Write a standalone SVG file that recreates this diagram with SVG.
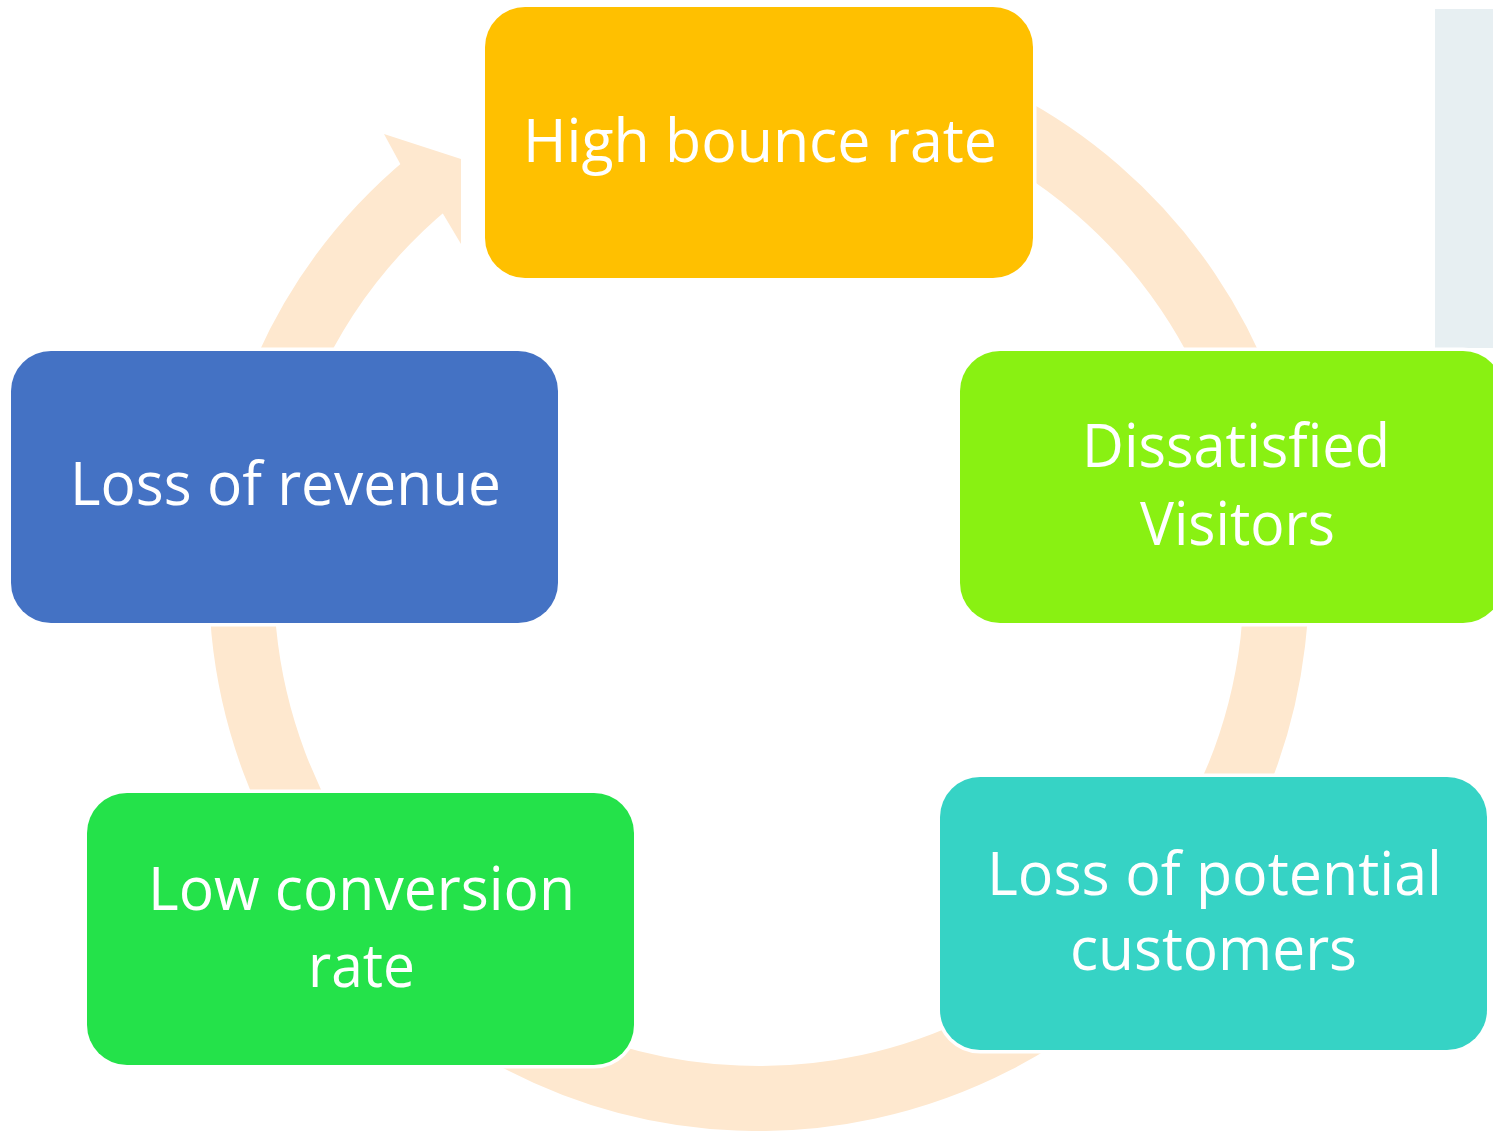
<svg xmlns="http://www.w3.org/2000/svg" width="1493" height="1131" viewBox="0 0 1493 1131">
<style>
.box{stroke:#ffffff;stroke-width:7;paint-order:stroke}
.lbl{font-family:"Open Sans","Liberation Sans",sans-serif;font-size:60px;fill:#ffffff;text-anchor:middle}
.ring{fill:none;stroke:#FEE8CF;stroke-width:65}
</style>
<rect x="1435" y="9" width="58" height="339" fill="#E7EFF2"/>
<g id="connectors">
<path class="ring" d="M625.06,81.14 A517.5,517.5 0 1 1 428.3,182.9"/>
<polygon points="400.3,164 384,134 461,159 461,244 442.7,213.3" fill="#FEE8CF"/>
</g>
<g id="node-high-bounce">
<rect class="box" x="485" y="7" width="548" height="271" rx="40" fill="#FFC000"/>
<text class="lbl" x="760" y="162" textLength="474" lengthAdjust="spacingAndGlyphs">High bounce rate</text>
</g>
<g id="node-dissatisfied">
<rect class="box" x="960" y="351" width="543" height="272" rx="40" fill="#89F112"/>
<text class="lbl" x="1236" y="467" textLength="308" lengthAdjust="spacingAndGlyphs">Dissatisfied</text>
<text class="lbl" x="1237.5" y="545" textLength="195" lengthAdjust="spacingAndGlyphs">Visitors</text>
</g>
<g id="node-loss-potential">
<rect class="box" x="940" y="777" width="547" height="273" rx="40" fill="#36D3C5"/>
<text class="lbl" x="1214.5" y="895" textLength="455" lengthAdjust="spacingAndGlyphs">Loss of potential</text>
<text class="lbl" x="1213.5" y="970" textLength="287" lengthAdjust="spacingAndGlyphs">customers</text>
</g>
<g id="node-low-conversion">
<rect class="box" x="87" y="793" width="547" height="272" rx="40" fill="#24E24A"/>
<text class="lbl" x="361.5" y="910" textLength="427" lengthAdjust="spacingAndGlyphs">Low conversion</text>
<text class="lbl" x="361.5" y="987" textLength="107" lengthAdjust="spacingAndGlyphs">rate</text>
</g>
<g id="node-loss-revenue">
<rect class="box" x="11" y="351" width="547" height="272" rx="40" fill="#4472C4"/>
<text class="lbl" x="285.5" y="505" textLength="431" lengthAdjust="spacingAndGlyphs">Loss of revenue</text>
</g>
</svg>
